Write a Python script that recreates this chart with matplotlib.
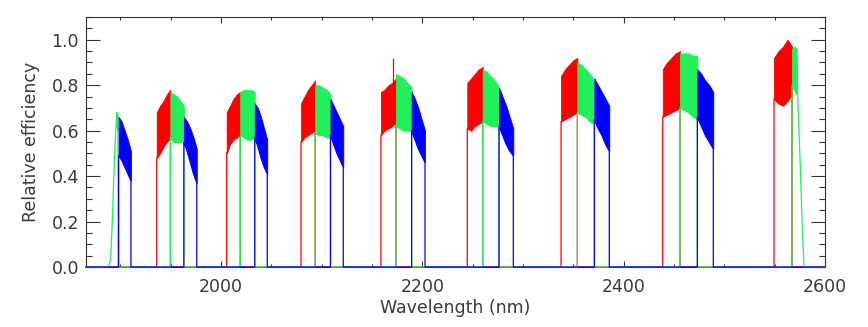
import numpy as np
import matplotlib.pyplot as plt
from matplotlib.ticker import MultipleLocator

# detector segments per echelle order (nm); each order is split red | green | blue
red_start = [1936.2, 2005.7, 2079.5, 2158.9, 2244.7, 2337.8, 2438.8, 2549.3]
red_end = [1949.8, 2019.2, 2093.6, 2173.8, 2260.0, 2354.0, 2456.0, 2567.2]
red_upper = [
    [0.68, 0.71, 0.73, 0.76, 0.78],
    [0.68, 0.71, 0.74, 0.76, 0.77],
    [0.72, 0.75, 0.78, 0.80, 0.82],
    [0.77, 0.78, 0.80, 0.81, 0.83],
    [0.81, 0.83, 0.85, 0.87, 0.88],
    [0.84, 0.87, 0.89, 0.91, 0.92],
    [0.87, 0.90, 0.92, 0.94, 0.95],
    [0.92, 0.95, 0.97, 1.00, 0.97],
]
red_lower = [
    [0.48, 0.50, 0.53, 0.55, 0.57],
    [0.50, 0.54, 0.56, 0.57, 0.58],
    [0.55, 0.57, 0.58, 0.59, 0.60],
    [0.58, 0.60, 0.61, 0.62, 0.64],
    [0.61, 0.60, 0.62, 0.63, 0.64],
    [0.64, 0.65, 0.66, 0.67, 0.68],
    [0.66, 0.67, 0.68, 0.69, 0.70],
    [0.74, 0.72, 0.71, 0.73, 0.76],
]

green_start = [1896.6, 1949.8, 2019.2, 2093.6, 2173.8, 2260.0, 2354.0, 2456.0, 2567.2]
green_end = [1897.8, 1963.2, 2033.6, 2108.8, 2189.4, 2276.2, 2370.9, 2473.2, 2571.7]
green_upper = [
    [0.68, 0.67, 0.66],
    [0.77, 0.76, 0.75, 0.73, 0.71],
    [0.77, 0.78, 0.78, 0.78, 0.77],
    [0.80, 0.80, 0.79, 0.78, 0.76],
    [0.85, 0.84, 0.83, 0.81, 0.79],
    [0.87, 0.86, 0.84, 0.82, 0.79],
    [0.90, 0.89, 0.87, 0.85, 0.82],
    [0.94, 0.94, 0.94, 0.93, 0.93],
    [0.96, 0.97, 0.96],
]
green_lower = [
    [0.62, 0.61, 0.60],
    [0.57, 0.55, 0.55, 0.55, 0.56],
    [0.58, 0.57, 0.56, 0.56, 0.57],
    [0.59, 0.58, 0.58, 0.57, 0.57],
    [0.62, 0.61, 0.60, 0.60, 0.60],
    [0.64, 0.63, 0.62, 0.62, 0.62],
    [0.68, 0.67, 0.66, 0.64, 0.63],
    [0.70, 0.69, 0.68, 0.66, 0.65],
    [0.80, 0.78, 0.76],
]
# filter cut-on at the short end and cut-off at the long end
green_rise_nm = [1888.2, 1890.5, 1892.5, 1894.2, 1895.8, 1896.6]
green_rise_eff = [0.0, 0.03, 0.25, 0.48, 0.62, 0.68]
green_fall_nm = [2571.7, 2572.9, 2575.2, 2577.5, 2579.2]
green_fall_eff = [0.96, 0.74, 0.47, 0.16, 0.0]

blue_start = [1898.4, 1963.2, 2033.6, 2108.8, 2189.4, 2276.2, 2370.9, 2473.2]
blue_end = [1910.6, 1976.0, 2046.0, 2121.5, 2202.7, 2290.4, 2385.7, 2489.0]
blue_upper = [
    [0.66, 0.64, 0.60, 0.56, 0.51],
    [0.66, 0.64, 0.61, 0.57, 0.52],
    [0.72, 0.70, 0.66, 0.61, 0.56],
    [0.74, 0.71, 0.68, 0.65, 0.62],
    [0.77, 0.74, 0.70, 0.65, 0.60],
    [0.79, 0.75, 0.71, 0.66, 0.61],
    [0.83, 0.80, 0.77, 0.74, 0.71],
    [0.87, 0.85, 0.82, 0.80, 0.77],
]
blue_lower = [
    [0.49, 0.47, 0.44, 0.41, 0.38],
    [0.55, 0.51, 0.46, 0.41, 0.37],
    [0.57, 0.53, 0.48, 0.44, 0.41],
    [0.58, 0.54, 0.50, 0.47, 0.44],
    [0.60, 0.56, 0.52, 0.49, 0.46],
    [0.62, 0.58, 0.54, 0.51, 0.49],
    [0.65, 0.61, 0.58, 0.54, 0.51],
    [0.66, 0.62, 0.58, 0.55, 0.52],
]

spike_nm = [2170.6]
spike_eff = [0.92]

x_min, x_max = 1866, 2600


def draw_detector(ax, starts, ends, upper, lower, color, rise=None, fall=None):
    xs, ys = [x_min], [0.0]
    last = len(starts) - 1
    for i, (a, b, up, lo) in enumerate(zip(starts, ends, upper, lower)):
        x = np.linspace(a, b, len(up))
        ax.fill_between(x, lo, up, color=color, lw=0.6, zorder=3)
        if rise is not None and i == 0:
            xs += list(rise[0]); ys += list(rise[1])
        else:
            xs += [a]; ys += [0.0]
        xs += list(x); ys += list(lo)
        if fall is not None and i == last:
            xs += list(fall[0]); ys += list(fall[1])
        else:
            xs += [b]; ys += [0.0]
    xs.append(x_max); ys.append(0.0)
    ax.plot(xs, ys, color=color, lw=0.9, zorder=3, clip_on=False)


fig = plt.figure(figsize=(8.68, 3.27), dpi=100)
ax = fig.add_axes([0.0991, 0.1835, 0.8514, 0.7645])

red, green, blue = '#ff0000', '#22f05a', '#0000ff'
draw_detector(ax, red_start, red_end, red_upper, red_lower, red)
ax.vlines(spike_nm, 0.8, spike_eff, color=red, lw=0.9, zorder=3)
draw_detector(ax, green_start, green_end, green_upper, green_lower, green,
              rise=(green_rise_nm, green_rise_eff),
              fall=(green_fall_nm, green_fall_eff))
draw_detector(ax, blue_start, blue_end, blue_upper, blue_lower, blue)

ax.set_xlim(x_min, x_max)
ax.set_ylim(0, 1.1)
ax.xaxis.set_major_locator(MultipleLocator(200))
ax.xaxis.set_minor_locator(MultipleLocator(50))
ax.yaxis.set_major_locator(MultipleLocator(0.2))
ax.yaxis.set_minor_locator(MultipleLocator(0.05))
ax.yaxis.set_major_formatter(lambda v, p: f'{v:.1f}')

txt = '#3a3a3a'
ax.tick_params(axis='both', which='both', direction='in', top=True, right=True,
               colors='#333333', labelcolor=txt, labelsize=12.5, width=0.8)
ax.tick_params(axis='x', which='major', length=4, pad=8)
ax.tick_params(axis='x', which='minor', length=2.5)
ax.tick_params(axis='y', which='major', length=10, pad=5)
ax.tick_params(axis='y', which='minor', length=4.5)
for s in ax.spines.values():
    s.set_color('#333333')
    s.set_linewidth(0.8)

ax.set_xlabel('Wavelength (nm)', fontsize=12.5, color=txt, labelpad=2)
ax.set_ylabel('Relative efficiency', fontsize=12.5, color=txt, labelpad=8)

fig.savefig('out.png', dpi=100)
